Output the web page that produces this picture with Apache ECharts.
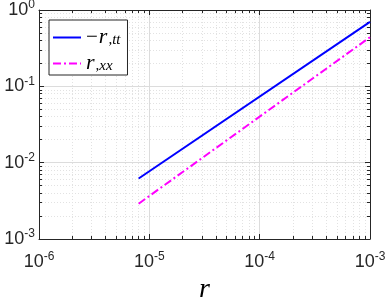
<!DOCTYPE html>
<html><head><meta charset="utf-8">
<script src="https://cdn.jsdelivr.net/npm/echarts@6/dist/echarts.min.js"></script>
<style>html,body{margin:0;padding:0;background:#fff}#c{width:387px;height:298px}</style>
</head><body><div id="c"></div>
<script>
var rX = [8e-6, 1e-3];
var rttY = [6.2e-3, 0.70];
var rxxY = [2.9e-3, 0.44];
var legendNames = ['-r,tt', 'r,xx'];
var xMajor = [1e-6, 1e-5, 1e-4, 1e-3];
var yMajor = [1e-3, 1e-2, 1e-1, 1];

function minorsOf(majors) {
  var out = [];
  for (var i = 0; i < majors.length - 1; i++) {
    for (var k = 2; k <= 9; k++) out.push(k * majors[i]);
  }
  return out;
}
var xMinor = minorsOf(xMajor);
var yMinor = minorsOf(yMajor);

function supLabel(v) {
  var e = Math.round(Math.log10(v));
  return '{b|10}{s|' + e + '}';
}
var labelRich = {
  b: {fontSize: 18, fontFamily: 'Liberation Sans', color: '#262626'},
  s: {fontSize: 12, fontFamily: 'Liberation Sans', color: '#262626', verticalAlign: 'top', padding: [0,0,10,0]}
};
var axColor = '#262626';
function mkAxis(pos, min, max, opts) {
  var a = {
    type: 'log', logBase: 10, min: min, max: max, position: pos,
    axisLine: {show: opts.line, onZero: false, lineStyle: {color: axColor, width: 1}},
    axisTick: {show: true, inside: true, length: opts.tickLen, customValues: opts.ticks, lineStyle: {color: axColor}},
    axisLabel: {show: !!opts.labels, formatter: supLabel, rich: labelRich, customValues: opts.labels || undefined},
    splitLine: {show: !!opts.split, lineStyle: opts.split || {}},
    minorTick: {show: false}, minorSplitLine: {show: false}
  };
  return a;
}
var majorSplit = {color: '#dcdcdc', width: 1};
var minorSplit = {color: '#e2e2e2', width: 1, type: [1, 2]};

var xAxes = [
  mkAxis('bottom', 1e-6, 1e-3, {line: true, tickLen: 5, ticks: xMajor, labels: xMajor, split: majorSplit}),
  mkAxis('top', 1e-6, 1e-3, {line: true, tickLen: 5, ticks: xMajor}),
  mkAxis('bottom', 1e-6, 1e-3, {line: false, tickLen: 3, ticks: xMinor, split: minorSplit}),
  mkAxis('top', 1e-6, 1e-3, {line: false, tickLen: 3, ticks: xMinor})
];
var yAxes = [
  mkAxis('left', 1e-3, 1, {line: true, tickLen: 5, ticks: yMajor, labels: yMajor, split: majorSplit}),
  mkAxis('right', 1e-3, 1, {line: true, tickLen: 5, ticks: yMajor}),
  mkAxis('left', 1e-3, 1, {line: false, tickLen: 3, ticks: yMinor, split: minorSplit}),
  mkAxis('right', 1e-3, 1, {line: false, tickLen: 3, ticks: yMinor})
];
xAxes[0].name = 'r';
xAxes[0].nameLocation = 'middle';
xAxes[0].nameGap = 25;
xAxes[0].nameTextStyle = {fontFamily: 'Liberation Serif', fontStyle: 'italic', fontSize: 28, color: '#000'};
xAxes[0].axisLabel.margin = 12;
yAxes[0].axisLabel.margin = 4;
xAxes[2].z = 0; yAxes[2].z = 0;

var chart = echarts.init(document.getElementById('c'), null, {renderer: 'canvas'});
chart.setOption({
  animation: false,
  backgroundColor: '#fff',
  grid: {left: 39, right: 17, top: 10, bottom: 59, containLabel: false, outerBoundsMode: 'none'},
  xAxis: xAxes,
  yAxis: yAxes,
  legend: {
    left: 49, top: 20, orient: 'vertical',
    backgroundColor: '#fff', borderColor: '#262626', borderWidth: 1, borderRadius: 0,
    padding: [2, 7, 1, 3], itemGap: 0, itemWidth: 28, itemHeight: 14,
    itemStyle: {opacity: 0},
    data: [legendNames[0], legendNames[1]],
    formatter: function (n) {
      if (n === legendNames[0]) return '{m|\u2212}{r|r}{sub|,tt}';
      return '{r|r}{sub|,xx}';
    },
    textStyle: {
      rich: {
        m: {fontSize: 21, lineHeight: 21, padding: [4, 1, 0, 0], verticalAlign: 'bottom', fontFamily: 'Liberation Serif', color: '#000'},
        r: {fontSize: 22, lineHeight: 21, padding: [4, 1, 0, 0], verticalAlign: 'bottom', fontFamily: 'Liberation Serif', fontStyle: 'italic', color: '#000'},
        sub: {fontSize: 15, lineHeight: 15, padding: [10, 0, 0, 0], verticalAlign: 'bottom', fontFamily: 'Liberation Serif', fontStyle: 'italic', color: '#000'}
      }
    }
  },
  series: [
    {name: legendNames[0], type: 'line', xAxisIndex: 0, yAxisIndex: 0, symbol: 'none',
     data: rX.map(function (x, i) { return [x, rttY[i]]; }),
     lineStyle: {color: '#0000ff', width: 2}, itemStyle: {color: '#0000ff'}},
    {name: legendNames[1], type: 'line', xAxisIndex: 0, yAxisIndex: 0, symbol: 'none',
     data: rX.map(function (x, i) { return [x, rxxY[i]]; }),
     lineStyle: {color: '#ff00ff', width: 2, type: [8, 3, 2, 3]}, itemStyle: {color: '#ff00ff'}}
  ]
});
</script></body></html>
